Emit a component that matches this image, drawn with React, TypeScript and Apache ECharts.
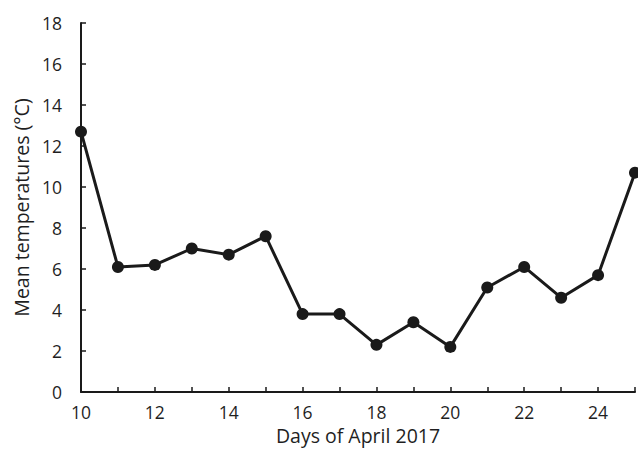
import React, { useEffect, useRef } from "react";
import * as echarts from "echarts";

const days = [10, 11, 12, 13, 14, 15, 16, 17, 18, 19, 20, 21, 22, 23, 24, 25];
const meanTemps = [12.7, 6.1, 6.2, 7.0, 6.7, 7.6, 3.8, 3.8, 2.3, 3.4, 2.2, 5.1, 6.1, 4.6, 5.7, 10.7];
const xTitle = "Days of April 2017";
const yTitle = "Mean temperatures (°C)";

export default function App() {
  const ref = useRef<HTMLDivElement>(null);
  useEffect(() => {
    if (!ref.current) return;
    const chart = echarts.init(ref.current, null, { renderer: "svg" });
    const font = "'Open Sans', 'Noto Sans', sans-serif";
    const axisColor = "#1a1a1a";
    const textColor = "#1f1f1f";
    chart.setOption({
      animation: false,
      backgroundColor: "#ffffff",
      grid: { left: 81, right: 2, top: 23, bottom: 69, containLabel: false },
      xAxis: {
        type: "value",
        min: 10,
        max: 25,
        interval: 1,
        name: xTitle,
        nameLocation: "middle",
        nameGap: 32,
        nameTextStyle: { fontFamily: font, fontSize: 19.5, color: textColor },
        axisLine: { show: true, lineStyle: { color: axisColor, width: 2 } },
        axisTick: { show: true, inside: true, length: 5, lineStyle: { color: axisColor, width: 1.5 } },
        splitLine: { show: false },
        axisLabel: {
          fontFamily: font,
          fontSize: 17.5,
          color: textColor,
          margin: 11,
          formatter: (v: number) => (v % 2 === 0 && v < 25 ? String(v) : ""),
        },
      },
      yAxis: {
        type: "value",
        min: 0,
        max: 18,
        interval: 2,
        name: yTitle,
        nameLocation: "middle",
        nameGap: 46,
        nameTextStyle: { fontFamily: font, fontSize: 19.5, color: textColor },
        axisLine: { show: true, lineStyle: { color: axisColor, width: 2 } },
        axisTick: { show: true, inside: true, length: 5, lineStyle: { color: axisColor, width: 1.5 } },
        splitLine: { show: false },
        axisLabel: { fontFamily: font, fontSize: 17.5, color: textColor, margin: 19 },
      },
      series: [
        {
          type: "line",
          data: days.map((d, i) => [d, meanTemps[i]]),
          symbol: "circle",
          symbolSize: 12,
          lineStyle: { color: "#1a1a1a", width: 3 },
          itemStyle: { color: "#1a1a1a" },
          clip: false,
        },
      ],
    });
    return () => chart.dispose();
  }, []);
  return (
    <div
      ref={ref}
      style={{ position: "fixed", left: 0, top: 0, width: 638, height: 461, background: "#fff" }}
    />
  );
}
